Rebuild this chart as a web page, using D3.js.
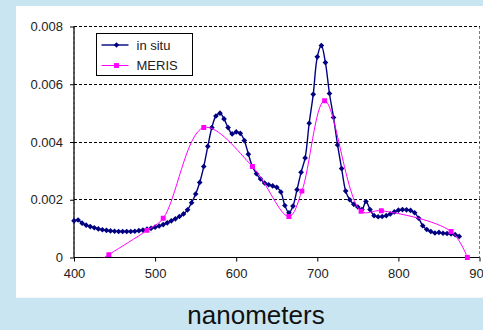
<!DOCTYPE html>
<html>
<head>
<meta charset="utf-8">
<script src="https://cdn.jsdelivr.net/npm/d3@7"></script>
<style>
  html, body { margin: 0; padding: 0; background: #cae5f2; }
  svg { display: block; }
</style>
</head>
<body>
<svg id="chart" width="483" height="330"></svg>
<script>
// wavelengths (nm) and reflectances
const inSituNm = [
  400, 405, 410, 415, 420, 425, 430, 435, 440, 445, 450, 455, 460, 465, 470, 475,
  480, 485, 490, 495, 500, 505, 510, 515, 520, 525, 530, 535, 540, 545, 550, 555,
  560, 565, 570, 575, 580, 585, 590, 595, 600, 605, 610, 615, 620, 625, 630, 635,
  640, 645, 650, 655, 660, 665, 670, 675, 680, 685, 690, 695, 700, 705, 710, 715,
  720, 725, 730, 735, 740, 745, 750, 755, 760, 765, 770, 775, 780, 785, 790, 795,
  800, 805, 810, 815, 820, 825, 830, 835, 840, 845, 850, 855, 860, 865, 870, 875
];
const inSituVal = [
  0.00127, 0.00130, 0.00119, 0.00112, 0.00107, 0.00103, 0.00099, 0.00096, 0.00094, 0.00092, 0.00091, 0.00090, 0.00090, 0.00090, 0.00090, 0.00091,
  0.00093, 0.00095, 0.00098, 0.00101, 0.00105, 0.00109, 0.00114, 0.00120, 0.00127, 0.00134, 0.00142, 0.00151, 0.00165, 0.00190, 0.00220, 0.00260,
  0.00315, 0.00385, 0.00450, 0.00490, 0.00500, 0.00480, 0.00450, 0.00428, 0.00435, 0.00430, 0.00405, 0.00358, 0.00315, 0.00290, 0.00272, 0.00258,
  0.00252, 0.00248, 0.00243, 0.00227, 0.00180, 0.00155, 0.00178, 0.00235, 0.00295, 0.00345, 0.00465, 0.00565, 0.00695, 0.00734, 0.00675, 0.00568,
  0.00485, 0.00390, 0.00308, 0.00230, 0.00200, 0.00184, 0.00175, 0.00166, 0.00194, 0.00166, 0.00145, 0.00141, 0.00142, 0.00145, 0.00151, 0.00158,
  0.00164, 0.00166, 0.00165, 0.00163, 0.00155, 0.00136, 0.00110, 0.00097, 0.00090, 0.00085, 0.00087, 0.00084, 0.00083, 0.00082, 0.00079, 0.00073
];
const merisNm = [412, 443, 490, 510, 560, 620, 665, 681, 709, 754, 779, 865, 885];
const merisVal = [-0.00045, 0.0001, 0.00094, 0.00136, 0.0045, 0.00315, 0.00142, 0.0023, 0.00543, 0.0016, 0.00162, 0.0009, 0.0];

const xTicks = [400, 500, 600, 700, 800, 900];
const yTicks = [0, 0.002, 0.004, 0.006, 0.008];
const seriesNames = ['in situ', 'MERIS'];
const xTitle = 'nanometers';

const inSitu = inSituNm.map((x, i) => ({ x, y: inSituVal[i] }));
const meris = merisNm.map((x, i) => ({ x, y: merisVal[i] }));

const svg = d3.select('#chart');
const font = '"Liberation Sans", Arial, sans-serif';

/**
 * SIZE DEFINITIONS
 */
const plot = { left: 74, right: 479.5, top: 26.5, bottom: 257.5 };

// white chart panel
svg.append('rect')
  .attr('x', 16).attr('y', 6)
  .attr('width', 483 - 16 + 2).attr('height', 297.7 - 6)
  .attr('fill', 'white');

/**
 * SCALES
 */
const xScale = d3.scaleLinear().domain([400, 900]).range([plot.left, plot.right]);
const yScale = d3.scaleLinear().domain([0, 0.008]).range([plot.bottom, plot.top]);

// plot area border (dashed grey)
svg.append('rect')
  .attr('x', plot.left).attr('y', plot.top)
  .attr('width', plot.right - plot.left).attr('height', plot.bottom - plot.top)
  .attr('fill', 'none')
  .attr('stroke', '#808080')
  .attr('stroke-dasharray', '3,2');

// gridlines, snapped to the pixel grid so the dots stay sharp
svg.append('g')
  .selectAll('line')
  .data(yTicks.filter((d) => d > 0))
  .join('line')
  .attr('x1', plot.left).attr('x2', plot.right)
  .attr('y1', (d) => Math.floor(yScale(d)) + 0.5)
  .attr('y2', (d) => Math.floor(yScale(d)) + 0.5)
  .attr('stroke', 'black')
  .attr('stroke-width', 1)
  .attr('shape-rendering', 'crispEdges')
  .attr('stroke-dasharray', '3,2');

/**
 * AXES
 */
const yAxis = d3.axisLeft(yScale)
  .tickValues(yTicks)
  .tickSize(4)
  .tickPadding(7)
  .tickFormat((d) => (d === 0 ? '0' : d3.format('.3f')(d)));

const gY = svg.append('g')
  .attr('transform', `translate(${plot.left},0)`)
  .call(yAxis);

const xAxis = d3.axisBottom(xScale)
  .tickValues(xTicks)
  .tickSize(4)
  .tickPadding(7)
  .tickFormat(d3.format('d'));

const gX = svg.append('g')
  .attr('transform', `translate(0,${plot.bottom})`)
  .call(xAxis);

[gX, gY].forEach((g) => {
  g.select('.domain').attr('stroke', 'black').attr('stroke-width', 1.2);
  g.selectAll('.tick line').attr('stroke', 'black');
  g.selectAll('.tick text')
    .attr('fill', '#222')
    .attr('font-size', 13)
    .attr('font-family', font);
});
gY.select('.domain').attr('d', `M0,${plot.top}V${plot.bottom}`);
gX.select('.domain').attr('d', `M${plot.left},0H${plot.right}`);

/**
 * CURVES
 */
svg.append('clipPath').attr('id', 'plot-clip')
  .append('rect')
  .attr('x', plot.left).attr('y', plot.top)
  .attr('width', plot.right - plot.left).attr('height', plot.bottom - plot.top);

svg.append('clipPath').attr('id', 'marker-clip')
  .append('rect')
  .attr('x', plot.left - 4).attr('y', plot.top - 4)
  .attr('width', plot.right - plot.left + 8).attr('height', plot.bottom - plot.top + 8);

const line = d3.line()
  .curve(d3.curveCatmullRom.alpha(0.5))
  .x((d) => xScale(d.x))
  .y((d) => yScale(d.y));

const diamond = d3.symbol(d3.symbolSquare, 16)();
const square = d3.symbol(d3.symbolSquare, 24)();

const series = [
  { name: seriesNames[0], data: inSitu, color: '#000080', width: 1.4, shape: diamond, rotate: 45 },
  { name: seriesNames[1], data: meris, color: '#ff00ff', width: 1, shape: square, rotate: 0 }
];

series.forEach((s) => {
  svg.append('path')
    .attr('clip-path', 'url(#plot-clip)')
    .attr('d', line(s.data))
    .attr('fill', 'none')
    .attr('stroke', s.color)
    .attr('stroke-width', s.width);

  svg.append('g')
    .attr('clip-path', 'url(#marker-clip)')
    .selectAll('path')
    .data(s.data)
    .join('path')
    .attr('d', s.shape)
    .attr('transform', (d) => `translate(${xScale(d.x)},${yScale(d.y)}) rotate(${s.rotate})`)
    .attr('fill', s.color);
});

/**
 * LEGEND
 */
const legend = svg.append('g').attr('transform', 'translate(96.5,33.5)');
legend.append('rect')
  .attr('width', 96).attr('height', 42)
  .attr('fill', 'white')
  .attr('stroke', 'black')
  .attr('stroke-width', 1);

series.forEach((s, i) => {
  const ly = 11.5 + i * 20.5;
  legend.append('line')
    .attr('x1', 5).attr('x2', 32)
    .attr('y1', ly).attr('y2', ly)
    .attr('stroke', s.color)
    .attr('stroke-width', s.width);
  legend.append('path')
    .attr('d', s.shape)
    .attr('transform', `translate(20,${ly}) rotate(${s.rotate})`)
    .attr('fill', s.color);
  legend.append('text')
    .attr('x', 40).attr('y', ly + 4.5)
    .attr('font-size', 13)
    .attr('font-family', font)
    .attr('fill', '#222')
    .text(s.name);
});

/**
 * AXIS TITLE
 */
svg.append('text')
  .attr('x', 256).attr('y', 324)
  .attr('text-anchor', 'middle')
  .attr('font-size', 26)
  .attr('font-family', font)
  .attr('fill', '#111')
  .text(xTitle);
</script>
</body>
</html>
